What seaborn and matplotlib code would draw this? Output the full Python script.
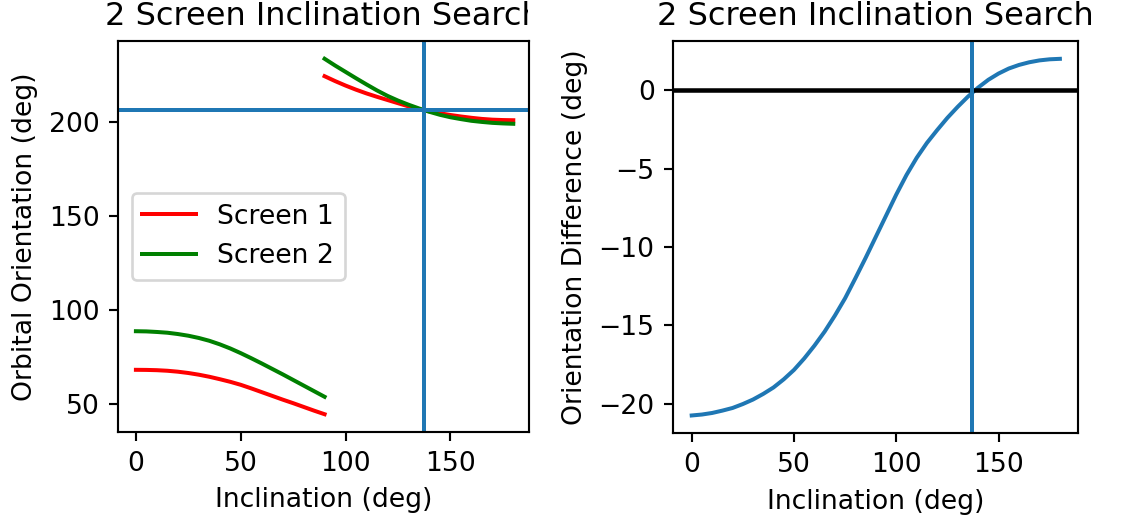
import numpy as np
import pandas as pd
import matplotlib
matplotlib.use("Agg")
import matplotlib.pyplot as plt
from matplotlib.transforms import Bbox
import seaborn as sns

# ---- data ----
incl_low = [0, 5, 10, 15, 20, 25, 30, 35, 40, 45, 50, 55, 60, 65, 70, 75, 80, 85, 90]
incl_high = [90, 95, 100, 105, 110, 115, 120, 125, 130, 135, 140, 145, 150, 155,
             160, 165, 170, 175, 180]

screen1_low = [68.0, 67.95, 67.8, 67.5, 67.0, 66.3, 65.4, 64.3, 63.0, 61.6, 60.0,
               58.1, 56.1, 54.1, 52.1, 50.2, 48.2, 46.2, 44.3]
screen2_low = [88.6, 88.5, 88.2, 87.8, 87.1, 86.2, 85.0, 83.5, 81.6, 79.4, 76.9,
               74.2, 71.4, 68.5, 65.6, 62.6, 59.6, 56.6, 53.6]
screen1_high = [224.7, 222.1, 219.7, 217.5, 215.5, 213.7, 212.0, 210.3, 208.6, 207.1,
                205.9, 204.9, 204.0, 203.2, 202.5, 201.9, 201.5, 201.3, 201.2]
screen2_high = [234.0, 230.4, 227.0, 223.6, 220.3, 217.1, 214.2, 211.7, 209.5, 207.5,
                205.7, 204.1, 202.8, 201.8, 200.9, 200.3, 199.8, 199.5, 199.3]

incl_diff = [0, 5, 10, 15, 20, 25, 30, 35, 40, 45, 50, 55, 60, 65, 70, 75, 80, 85,
             90, 95, 100, 105, 110, 115, 120, 125, 130, 135, 140, 145, 150, 155,
             160, 165, 170, 175, 180]
orient_diff = [-20.76, -20.70, -20.60, -20.45, -20.28, -20.03, -19.74, -19.38,
               -18.97, -18.45, -17.85, -17.12, -16.30, -15.40, -14.38, -13.27,
               -12.0, -10.7, -9.35, -8.0, -6.65, -5.4, -4.3, -3.35, -2.53, -1.75,
               -1.05, -0.4, 0.18, 0.68, 1.08, 1.4, 1.63, 1.8, 1.92, 1.99, 2.02]

best_incl = 137.2
best_orient = 206.7

series_names = ["Screen 1", "Screen 2"]
colors = {"Screen 1": "red", "Screen 2": "green"}
title = "2 Screen Inclination Search"

# ---- long-form table ----
rows = []
for name, low, high in [("Screen 1", screen1_low, screen1_high),
                        ("Screen 2", screen2_low, screen2_high)]:
    for x, y in zip(incl_low, low):
        rows.append((name, "low", x, y))
    for x, y in zip(incl_high, high):
        rows.append((name, "high", x, y))
df = pd.DataFrame(rows, columns=["screen", "segment", "incl", "orient"])
df_diff = pd.DataFrame({"incl": incl_diff, "diff": orient_diff})

W, H, DPI = 1121, 525, 192
fig = plt.figure(figsize=(W / DPI, H / DPI), dpi=DPI)
ax1 = fig.add_axes([118.3 / W, (H - 432) / H, (529 - 118.3) / W, (432 - 41) / H])
ax2 = fig.add_axes([673.3 / W, (H - 433.3) / H, (1078.3 - 673.3) / W, (433.3 - 41) / H])

sns.lineplot(data=df, x="incl", y="orient", hue="screen", units="segment",
             estimator=None, palette=colors, hue_order=series_names,
             linewidth=1.5, ax=ax1)
ax1.axhline(best_orient, color="C0", linewidth=1.5)
ax1.axvline(best_incl, color="C0", linewidth=1.5)
ax1.set_xlabel("Inclination (deg)")
ax1.set_ylabel("Orbital Orientation (deg)")
ax1.set_yticks([50, 100, 150, 200])
ax1.set_xticks([0, 50, 100, 150])
ax1.set_xlim(-8.4, 187.5)
ax1.legend(loc="center left", title=None)
t1 = ax1.set_title(title)

sns.lineplot(data=df_diff, x="incl", y="diff", color="C0", linewidth=1.5, ax=ax2)
ax2.axhline(0, color="black", linewidth=1.7)
ax2.axvline(best_incl, color="C0", linewidth=1.5)
ax2.set_xlabel("Inclination (deg)")
ax2.set_ylabel("Orientation Difference (deg)")
ax2.set_yticks([-20, -15, -10, -5, 0])
ax2.set_xticks([0, 50, 100, 150])
ax2.set_title(title)

t1.set_clip_box(Bbox([[0, 0], [528, H]]))
t1.set_clip_on(True)

fig.savefig("out.png", dpi=DPI)
